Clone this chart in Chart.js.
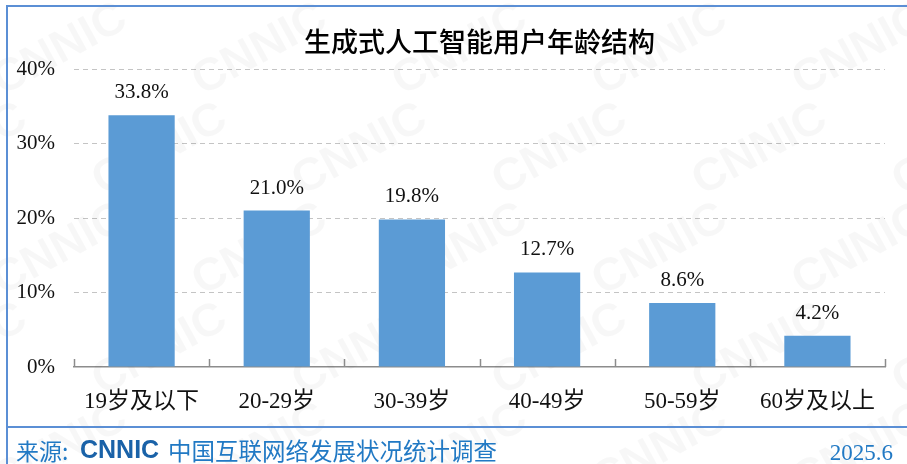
<!DOCTYPE html>
<html>
<head>
<meta charset="utf-8">
<script src="https://cdn.jsdelivr.net/npm/chart.js@4.4.1/dist/chart.umd.min.js"></script>
<style>
  html, body { margin: 0; padding: 0; background: #fff; }
  #wrap { width: 907px; height: 464px; position: relative; }
</style>
</head>
<body>
<div id="wrap"><canvas id="ageChart" width="907" height="464"></canvas></div>
<script>
// 生成式人工智能用户年龄结构
const categories = ['19岁及以下', '20-29岁', '30-39岁', '40-49岁', '50-59岁', '60岁及以上'];
const shares = [33.8, 21.0, 19.8, 12.7, 8.6, 4.2];
const yTicks = [0, 10, 20, 30, 40];
const chartTitle = '生成式人工智能用户年龄结构';
const sourceText = '中国互联网络发展状况统计调查';
const issueDate = '2025.6';

const serif = '"Liberation Serif", "Times New Roman", "Noto Sans CJK SC", serif';
const cjk = '"Noto Sans CJK SC", "Noto Sans", sans-serif';
const blue = '#5b9bd5';
const frameBlue = '#5b8fd5';

// 背景水印
const watermark = {
    id: 'watermark',
    beforeDatasetsDraw(chart) {
        const ctx = chart.ctx;
        ctx.save();
        ctx.fillStyle = 'rgba(0,0,0,0.03)';
        ctx.font = 'bold 46px "Liberation Sans", sans-serif';
        ctx.textAlign = 'center';
        ctx.textBaseline = 'middle';
        for (let row = -1; row < 6; row++) {
            for (let col = -1; col < 6; col++) {
                const cx = col * 200 + (row % 2 ? 100 : 0) + 60;
                const cy = row * 100 + 50;
                ctx.save();
                ctx.translate(cx, cy);
                ctx.rotate(-0.5);
                ctx.fillText('CNNIC', 0, 0);
                ctx.restore();
            }
        }
        ctx.restore();
    }
};

// 标题、数值标签、刻度线、页脚
const decorations = {
    id: 'decorations',
    afterDraw(chart) {
        const ctx = chart.ctx;
        const area = chart.chartArea;
        const xs = chart.scales.x;
        ctx.save();

        // category tick marks pointing up
        ctx.strokeStyle = '#8c8c8c';
        ctx.lineWidth = 1.5;
        const step = (area.right - area.left) / categories.length;
        for (let i = 0; i <= categories.length; i++) {
            const x = Math.round(xs.getPixelForValue(0) - step / 2 + i * step) + 0.5;
            ctx.beginPath();
            ctx.moveTo(x, area.bottom);
            ctx.lineTo(x, area.bottom - 8);
            ctx.stroke();
        }

        // value labels
        ctx.fillStyle = '#111';
        ctx.font = '21px ' + serif;
        ctx.textAlign = 'center';
        ctx.textBaseline = 'alphabetic';
        chart.getDatasetMeta(0).data.forEach((bar, i) => {
            ctx.fillText(shares[i].toFixed(1) + '%', bar.x, bar.y - 17);
        });

        // title
        ctx.font = '500 27px ' + cjk;
        ctx.textBaseline = 'middle';
        ctx.fillStyle = '#000';
        ctx.fillText(chartTitle, (area.left + area.right) / 2, 42);

        // frame
        ctx.strokeStyle = frameBlue;
        ctx.lineWidth = 2;
        ctx.beginPath();
        ctx.moveTo(7, 464);
        ctx.lineTo(7, 6);
        ctx.lineTo(907, 6);
        ctx.moveTo(7, 427);
        ctx.lineTo(907, 427);
        ctx.stroke();

        // footer
        ctx.textAlign = 'left';
        ctx.fillStyle = '#2179c4';
        ctx.font = '23px ' + cjk;
        ctx.fillText('来源:', 16, 451);
        ctx.fillStyle = '#1a62a8';
        ctx.font = 'bold 25px "Liberation Sans", sans-serif';
        ctx.fillText('CNNIC', 80, 451);
        ctx.fillStyle = '#2179c4';
        ctx.font = '23.5px ' + cjk;
        ctx.fillText(sourceText, 168, 451);
        ctx.textAlign = 'right';
        ctx.font = '23px ' + serif;
        ctx.fillText(issueDate, 893, 454);
        ctx.restore();
    }
};

new Chart(document.getElementById('ageChart').getContext('2d'), {
    type: 'bar',
    data: {
        labels: categories,
        datasets: [{
            data: shares,
            backgroundColor: blue,
            borderWidth: 0,
            categoryPercentage: 1,
            barPercentage: 0.49
        }]
    },
    options: {
        responsive: false,
        animation: false,
        layout: { padding: { top: 69, left: 0, right: 22, bottom: 37 } },
        plugins: {
            legend: { display: false },
            tooltip: { enabled: false },
            title: { display: false }
        },
        scales: {
            x: {
                afterFit(scale) { scale.height = 60; },
                grid: { display: false },
                border: { display: true, color: '#8c8c8c', width: 1.5 },
                ticks: {
                    color: '#111',
                    font: { family: serif, size: 23 },
                    padding: 13,
                    maxRotation: 0
                }
            },
            y: {
                min: yTicks[0],
                max: yTicks[yTicks.length - 1],
                afterFit(scale) { scale.width = 74; },
                afterBuildTicks(scale) { scale.ticks = yTicks.map(v => ({ value: v })); },
                border: { display: true, width: 0, color: 'rgba(0,0,0,0)', dash: [5, 4] },
                grid: {
                    color: ctx => ctx.tick && ctx.tick.value === 0 ? 'rgba(0,0,0,0)' : '#c4c4c4',
                    lineWidth: 1,
                    drawTicks: false
                },
                ticks: {
                    color: '#111',
                    font: { family: serif, size: 21 },
                    padding: 19,
                    callback: v => v + '%'
                }
            }
        }
    },
    plugins: [watermark, decorations]
});
</script>
</body>
</html>
